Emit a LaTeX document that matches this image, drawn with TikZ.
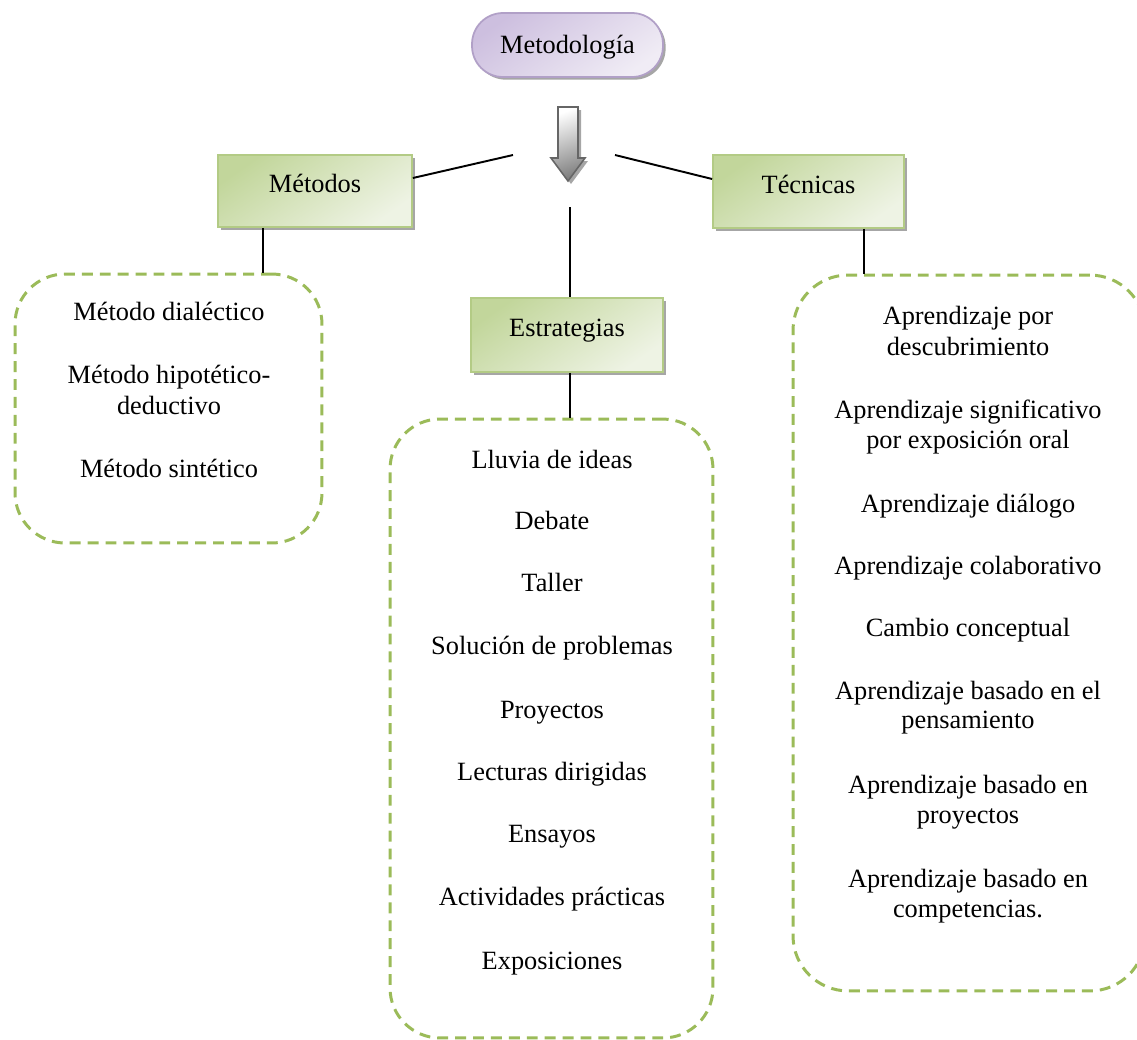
\documentclass[tikz,border=0pt]{standalone}
\usepackage{fontspec}
\setmainfont{Liberation Serif}
\usetikzlibrary{shadows}

\definecolor{dashgreen}{HTML}{9BBB59}
\definecolor{boxedge}{HTML}{B3CB85}
\definecolor{boxdark}{HTML}{C2D69B}
\definecolor{boxlight}{HTML}{EEF3E4}
\definecolor{pilledge}{HTML}{B1A0C7}
\definecolor{pilldark}{HTML}{CDBFDF}
\definecolor{pilllight}{HTML}{F0ECF5}
\definecolor{shadowgray}{HTML}{A6A6A6}

\tikzset{
  txt/.style={font=\fontsize{15}{17}\selectfont, inner sep=0pt, anchor=base},
  pill/.style={draw=pilledge, line width=1pt, rounded corners=0.62cm,
    top color=pilldark, bottom color=pilllight, shading angle=35,
    general shadow={fill=shadowgray, shadow xshift=1.5pt, shadow yshift=-1.5pt},
    minimum width=3.82cm, minimum height=1.28cm, inner sep=0pt,
    font=\fontsize{15}{17}\selectfont, text height=11pt, text depth=1pt},
  catbox/.style={draw=boxedge, line width=1pt,
    top color=boxdark, bottom color=boxlight, shading angle=35,
    general shadow={fill=shadowgray, shadow xshift=1.7pt, shadow yshift=-1.7pt},
    inner sep=0pt, font=\fontsize{15}{17}\selectfont,
    text height=11pt, text depth=9pt},
  listbox/.style={draw=dashgreen, line width=1.7pt, dash pattern=on 6.2pt off 4pt,
    rounded corners=1cm, inner sep=0pt},
  link/.style={draw=black, line width=1.1pt},
}

\begin{document}
\begin{tikzpicture}[x=0.02cm, y=-0.02cm]
\useasboundingbox (0,0) rectangle (1137,1039);
\clip (0,0) rectangle (1137,1039);

% title
\node[pill] (metodologia) at (567.5,45) {Metodología};

% down arrow under the title
\fill[shadowgray] (561,110) -- (581,110) -- (581,161) -- (588,161) -- (571,184)
  -- (554,161) -- (561,161) -- cycle;
\draw[draw=gray!80!black, line width=0.9pt, top color=white, bottom color=black!50,
  shading angle=20]
  (558,107) -- (578,107) -- (578,158) -- (585,158) -- (568,181)
  -- (551,158) -- (558,158) -- cycle;

% category boxes
\node[catbox, minimum width=3.88cm, minimum height=1.44cm] (metodos) at (315,191) {Métodos};
\node[catbox, minimum width=3.82cm, minimum height=1.46cm] (tecnicas) at (808.5,191.5) {Técnicas};
\node[catbox, minimum width=3.84cm, minimum height=1.48cm] (estrategias) at (567,335) {Estrategias};

% dashed lists
\node[listbox, minimum width=6.14cm, minimum height=5.38cm] (metList) at (168.5,408.5) {};
\node[listbox, minimum width=6.46cm, minimum height=12.38cm] (estList) at (551.5,728.5) {};
\node[listbox, minimum width=7.04cm, minimum height=14.32cm, rounded corners=1.1cm] (tecList) at (969,633) {};

% connectors
\coordinate (jL) at (513,155);
\coordinate (jR) at (615,155);
\coordinate (jC) at (570,207);
\draw[link] ([yshift=0.26cm]metodos.east) -- (jL);
\draw[link] ([yshift=0.25cm]tecnicas.west) -- (jR);
\draw[link] (jC) -- (jC |- estrategias.north);
\path ([xshift=-1.04cm]metodos.south) coordinate (mA);
\path ([xshift=1.11cm]tecnicas.south) coordinate (tA);
\path ([xshift=0.06cm]estrategias.south) coordinate (eA);
\draw[link] (mA) -- (mA |- metList.north);
\draw[link] (tA) -- (tA |- tecList.north);
\draw[link] (eA) -- (eA |- estList.north);

% methods
\node[txt] (m1)  at (169,320) {Método dialéctico};
\node[txt] (m2a) at (169,383) {Método hipotético-};
\node[txt] (m2b) at (169,414) {deductivo};
\node[txt] (m3)  at (169,477) {Método sintético};

% strategies
\node[txt] (s1) at (552,468) {Lluvia de ideas};
\node[txt] (s2) at (552,529) {Debate};
\node[txt] (s3) at (552,591) {Taller};
\node[txt] (s4) at (552,654) {Solución de problemas};
\node[txt] (s5) at (552,718) {Proyectos};
\node[txt] (s6) at (552,780) {Lecturas dirigidas};
\node[txt] (s7) at (552,842) {Ensayos};
\node[txt] (s8) at (552,905) {Actividades prácticas};
\node[txt] (s9) at (552,969) {Exposiciones};

% techniques
\node[txt] (t1a) at (968,324) {Aprendizaje por};
\node[txt] (t1b) at (968,355) {descubrimiento};
\node[txt] (t2a) at (968,418) {Aprendizaje significativo};
\node[txt] (t2b) at (968,448) {por exposición oral};
\node[txt] (t3)  at (968,512) {Aprendizaje diálogo};
\node[txt] (t4)  at (968,574) {Aprendizaje colaborativo};
\node[txt] (t5)  at (968,636) {Cambio conceptual};
\node[txt] (t6a) at (968,699) {Aprendizaje basado en el};
\node[txt] (t6b) at (968,728) {pensamiento};
\node[txt] (t7a) at (968,793) {Aprendizaje basado en};
\node[txt] (t7b) at (968,823) {proyectos};
\node[txt] (t8a) at (968,887) {Aprendizaje basado en};
\node[txt] (t8b) at (968,917) {competencias.};
\end{tikzpicture}
\end{document}
